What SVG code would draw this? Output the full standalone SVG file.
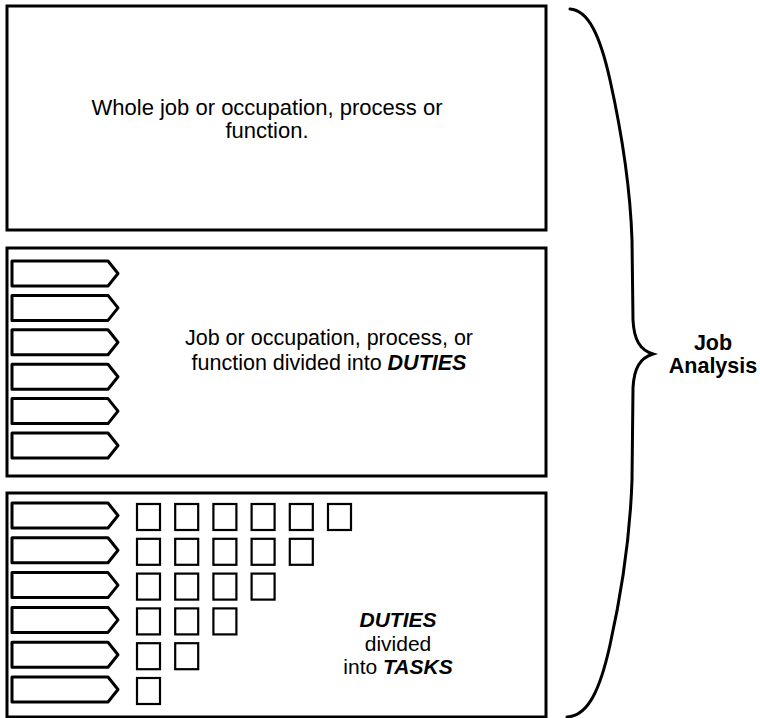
<svg xmlns="http://www.w3.org/2000/svg" width="760" height="718" viewBox="0 0 760 718">
  <style>
    .panel { fill: #ffffff; stroke: #000000; stroke-width: 3; }
    .duty { fill: #ffffff; stroke: #000000; stroke-width: 3; stroke-linejoin: round; }
    .task { fill: #ffffff; stroke: #000000; stroke-width: 2.2; }
    .brace { fill: none; stroke: #000000; stroke-width: 3; stroke-linecap: round; }
    text { font-family: "Liberation Sans", Arial, Helvetica, sans-serif; fill: #000000; text-anchor: middle; }
    .lbl { font-size: 22px; }
    .em { font-weight: bold; font-style: italic; }
    .title { font-size: 21.5px; font-weight: bold; }
  </style>
  <defs>
    <!-- duty tag: rectangle with a pointed right end -->
    <path id="duty" class="duty" d="M0,0 H96 L106,12.5 L96,25 H0 Z"/>
    <rect id="task" class="task" width="23" height="26"/>
  </defs>

  <rect width="760" height="718" fill="#ffffff"/>

  <!-- level 1: whole job -->
  <g id="whole-job">
    <rect class="panel" x="7" y="6" width="539" height="224"/>
    <text class="lbl" x="267" y="115">Whole job or occupation, process or</text>
    <text class="lbl" x="267" y="138">function.</text>
  </g>

  <!-- level 2: duties -->
  <g id="duties">
    <rect class="panel" x="7" y="248" width="539" height="228"/>
    <use href="#duty" x="12" y="261"/>
    <use href="#duty" x="12" y="295.4"/>
    <use href="#duty" x="12" y="329.8"/>
    <use href="#duty" x="12" y="364.2"/>
    <use href="#duty" x="12" y="398.6"/>
    <use href="#duty" x="12" y="433"/>
    <text class="lbl" x="329" y="345" style="font-size:21.5px">Job or occupation, process, or</text>
    <text class="lbl" x="329" y="370" style="font-size:21.5px">function divided into <tspan class="em">DUTIES</tspan></text>
  </g>

  <!-- level 3: duties split into tasks -->
  <g id="tasks">
    <rect class="panel" x="7" y="493" width="539" height="224"/>
    <use href="#duty" x="12" y="503"/>
    <use href="#duty" x="12" y="537.8"/>
    <use href="#duty" x="12" y="572.6"/>
    <use href="#duty" x="12" y="607.4"/>
    <use href="#duty" x="12" y="642.2"/>
    <use href="#duty" x="12" y="677"/>

    <use href="#task" x="137" y="504"/>
    <use href="#task" x="175.2" y="504"/>
    <use href="#task" x="213.4" y="504"/>
    <use href="#task" x="251.6" y="504"/>
    <use href="#task" x="289.8" y="504"/>
    <use href="#task" x="328" y="504"/>

    <use href="#task" x="137" y="538.8"/>
    <use href="#task" x="175.2" y="538.8"/>
    <use href="#task" x="213.4" y="538.8"/>
    <use href="#task" x="251.6" y="538.8"/>
    <use href="#task" x="289.8" y="538.8"/>

    <use href="#task" x="137" y="573.6"/>
    <use href="#task" x="175.2" y="573.6"/>
    <use href="#task" x="213.4" y="573.6"/>
    <use href="#task" x="251.6" y="573.6"/>

    <use href="#task" x="137" y="608.4"/>
    <use href="#task" x="175.2" y="608.4"/>
    <use href="#task" x="213.4" y="608.4"/>

    <use href="#task" x="137" y="643.2"/>
    <use href="#task" x="175.2" y="643.2"/>

    <use href="#task" x="137" y="678"/>

    <text class="lbl" x="398" y="627" style="font-size:21px"><tspan class="em">DUTIES</tspan></text>
    <text class="lbl" x="398" y="651" style="font-size:21px">divided</text>
    <text class="lbl" x="398" y="674" style="font-size:21px">into <tspan class="em">TASKS</tspan></text>
  </g>

  <!-- brace grouping all three levels -->
  <g id="connectors">
    <path class="brace" d="M570,9 C588,10 600,35 610,80 C620,125 630,180 632,240 L633,320 C634,340 640,350 653,354 C640,358 634,368 633,388 L632,480 C630,540 620,600 610,645 C600,690 588,716 567,717"/>
  </g>

  <g id="job-analysis">
    <text class="title" x="713" y="350">Job</text>
    <text class="title" x="713" y="373">Analysis</text>
  </g>
</svg>
